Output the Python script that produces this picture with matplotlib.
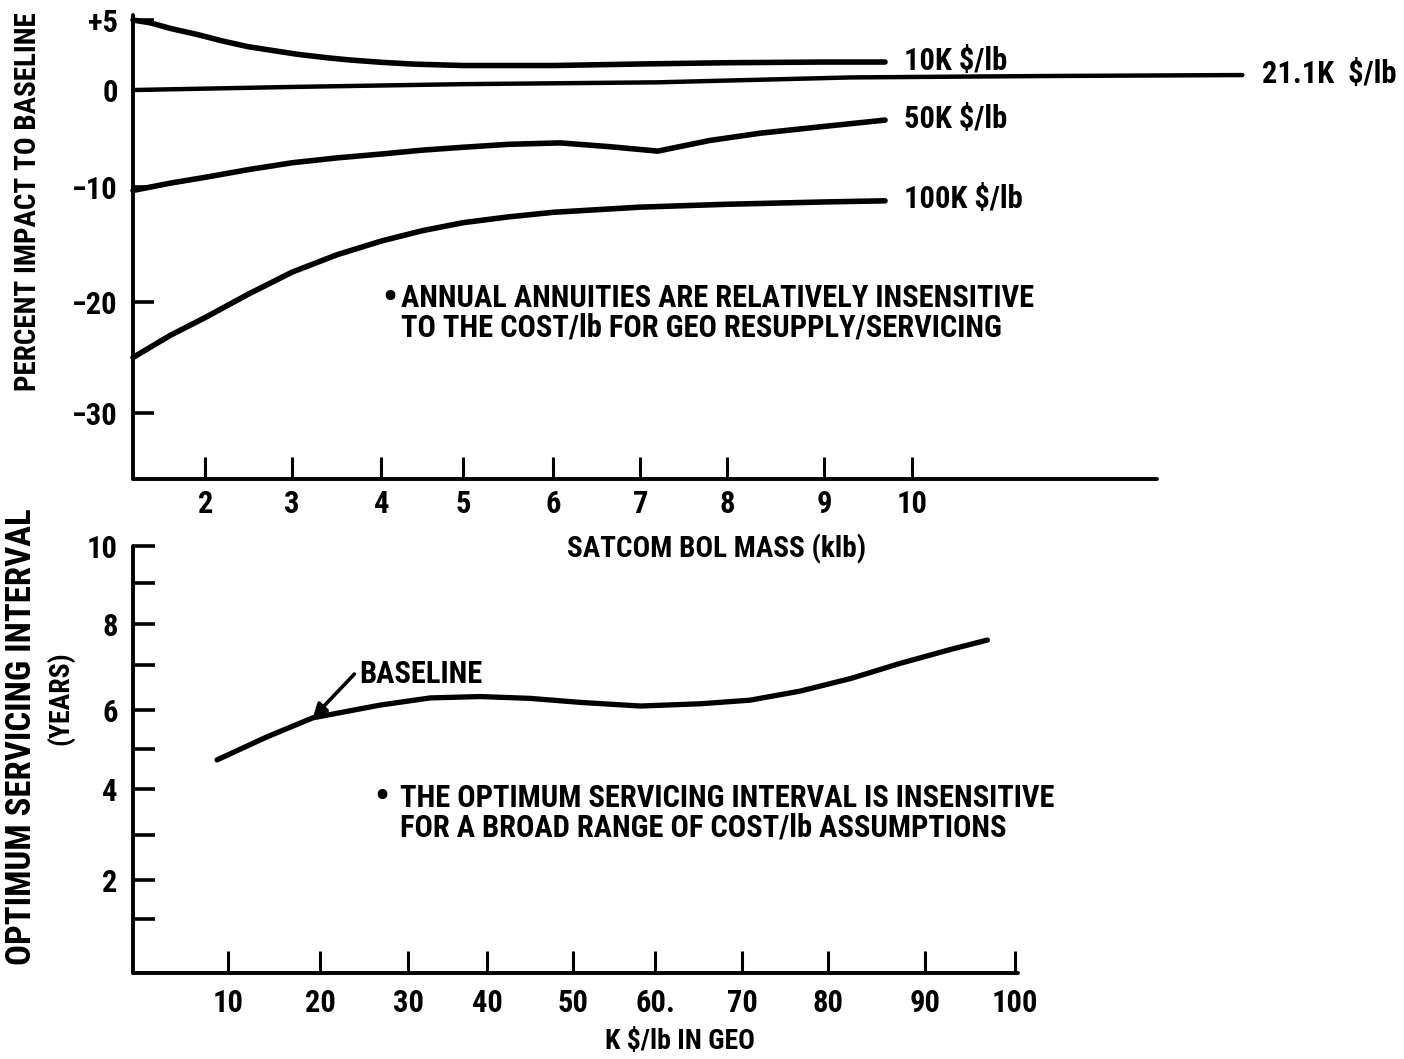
import numpy as np
import matplotlib
matplotlib.use("Agg")
import matplotlib.pyplot as plt
from matplotlib import font_manager

# ---------------- data ----------------
# upper panel: percent impact to baseline vs SATCOM BOL mass (klb)
x_10k = [1.17, 1.37, 1.6, 1.92, 2.2, 2.49, 2.8, 3.06, 3.4, 3.64, 4.0, 4.4, 5.0, 6.0, 7.0, 8.0, 9.0, 9.69]
y_10k = [5.0, 4.8, 4.4, 3.95, 3.5, 3.1, 2.8, 2.55, 2.3, 2.15, 1.98, 1.85, 1.75, 1.75, 1.86, 1.95, 2.0, 2.0]

x_21k = [1.17, 3.0, 5.0, 7.2, 9.3, 11.5, 13.75]
y_21k = [0.0, 0.22, 0.42, 0.55, 0.9, 1.0, 1.07]

x_50k = [1.17, 1.6, 2.0, 2.5, 3.0, 3.5, 4.0, 4.5, 5.0, 5.5, 6.08, 6.66, 7.2, 7.8, 8.34, 9.0, 9.69]
y_50k = [-10.3, -9.6, -9.0, -8.2, -7.5, -7.0, -6.6, -6.2, -5.9, -5.6, -5.45, -5.85, -6.3, -5.2, -4.45, -3.75, -3.1]

x_100k = [1.17, 1.6, 2.0, 2.5, 3.0, 3.5, 4.0, 4.5, 5.0, 5.5, 6.0, 7.0, 8.0, 9.0, 9.69]
y_100k = [-25.0, -23.0, -21.4, -19.3, -17.4, -15.9, -14.7, -13.8, -13.1, -12.6, -12.2, -11.75, -11.5, -11.3, -11.2]

curve_labels = ["10K \\$/lb", "21.1K  \\$/lb", "50K \\$/lb", "100K \\$/lb"]

top_xticks = [2, 3, 4, 5, 6, 7, 8, 9, 10]
top_yticks = [5, 0, -10, -20, -30]
top_yticklabels = ["+5", "0", "\u221210", "\u221220", "\u221230"]

# lower panel: optimum servicing interval (years) vs K $/lb in GEO
cost_k = [8.8, 14.2, 19.2, 26.8, 32.8, 39.1, 45.0, 50.9, 58.2, 65.2, 70.9, 76.7, 82.3, 87.4, 92.8, 96.9]
interval_yr = [4.73, 5.31, 5.8, 6.11, 6.27, 6.3, 6.26, 6.17, 6.09, 6.14, 6.22, 6.42, 6.7, 7.04, 7.38, 7.61]

bot_xticks = [10, 20, 30, 40, 50, 60, 70, 80, 90, 100]
bot_xticklabels = ["10", "20", "30", "40", "50", "60.", "70", "80", "90", "100"]
bot_yticks = [2, 4, 6, 8, 10]
bot_yminor = [1, 3, 5, 7, 9]

# hand-ruled axis spacing (value -> ruled position) for the two panels
top_x_rule = ([2, 3, 4, 5, 6, 7, 8, 9, 10], [205, 292, 381, 463, 553, 640, 727, 824, 912])
top_y_rule = ([-30, -20, -10, 0, 5], [413, 302, 187, 90, 20])
bot_x_rule = ([10, 20, 30, 40, 50, 60, 70, 80, 90, 100],
              [228, 320, 408, 487, 573, 655, 742, 828, 925, 1015])
bot_y_rule = ([1, 2, 3, 4, 5, 6, 7, 8, 9, 10],
              [919, 880, 835, 789, 749, 710, 665, 624, 583, 546])


def ruled_scale(values, marks, flip=False):
    v = np.asarray(values, float)
    m = np.asarray(marks, float)
    if flip:
        m = -m

    def make(a, b):
        s0 = (b[1] - b[0]) / (a[1] - a[0])
        s1 = (b[-1] - b[-2]) / (a[-1] - a[-2])

        def f(x):
            x = np.asarray(x, float)
            y = np.interp(x, a, b)
            y = np.where(x < a[0], b[0] + (x - a[0]) * s0, y)
            y = np.where(x > a[-1], b[-1] + (x - a[-1]) * s1, y)
            return y
        return f
    return make(v, m), make(m, v)


# ---------------- style ----------------
fonts = font_manager.fontManager.ttflist
narrow = [f.name for f in fonts if f.name in ("Liberation Sans Narrow", "Roboto Condensed",
                                              "Open Sans Condensed")]
has_condensed = any(f.name == "DejaVu Sans" and f.stretch == "condensed" for f in fonts)
if narrow:
    plt.rcParams["font.family"] = [narrow[0], "DejaVu Sans"]
    SCALE = 1.0
elif has_condensed:
    plt.rcParams["font.family"] = ["DejaVu Sans", "DejaVu Sans"]
    plt.rcParams["font.stretch"] = "condensed"
    SCALE = 1.0
else:
    plt.rcParams["font.family"] = ["DejaVu Sans"]
    SCALE = 0.86
plt.rcParams["font.weight"] = "bold"

W, H = 1404, 1059
fig = plt.figure(figsize=(W / 100, H / 100), dpi=100)
fig.patch.set_facecolor("white")


def px_axes(left, top, right, bottom):
    return fig.add_axes([left / W, 1 - bottom / H, (right - left) / W, (bottom - top) / H])


TICK_FS = 22 * SCALE
TEXT_FS = 22 * SCALE
LW = 4.0
SPINE_LW = 2.8

# ---------------- upper panel ----------------
ax1 = px_axes(133, 15, 1157, 479)
ax1.set_xscale("function", functions=ruled_scale(*top_x_rule))
ax1.set_yscale("function", functions=ruled_scale(*top_y_rule, flip=True))
ax1.set_xlim(1.17, 12.78)
ax1.set_ylim(-35.95, 5.36)

for s in ("top", "right"):
    ax1.spines[s].set_visible(False)
for s in ("left", "bottom"):
    ax1.spines[s].set_linewidth(SPINE_LW)
    ax1.spines[s].set_capstyle("round")

ax1.set_xticks(top_xticks)
ax1.set_xticklabels([str(t) for t in top_xticks])
ax1.set_yticks(top_yticks)
ax1.set_yticklabels(top_yticklabels)
ax1.minorticks_off()
ax1.tick_params(axis="x", direction="in", length=16, width=2.2, pad=7, labelsize=TICK_FS)
ax1.tick_params(axis="y", direction="in", length=15, width=2.6, pad=11, labelsize=TICK_FS)

series = [(x_10k, y_10k, LW), (x_21k, y_21k, 3.2), (x_50k, y_50k, LW), (x_100k, y_100k, LW)]
for (xs, ys, lw), lab in zip(series, curve_labels):
    ax1.plot(xs, ys, color="black", lw=lw, solid_capstyle="round",
             solid_joinstyle="round", clip_on=False, zorder=3)
    ax1.annotate(lab, xy=(xs[-1], ys[-1]), xytext=(14, 1), textcoords="offset points",
                 ha="left", va="center", fontsize=TICK_FS, fontweight="bold",
                 annotation_clip=False)

ax1.text(0.251, 0.390, "\u2022", transform=ax1.transAxes, ha="center", va="center",
         fontsize=30)
ax1.text(0.262, 0.358, "ANNUAL ANNUITIES ARE RELATIVELY INSENSITIVE\n"
         "TO THE COST/lb FOR GEO RESUPPLY/SERVICING", transform=ax1.transAxes,
         ha="left", va="center", fontsize=TEXT_FS, linespacing=1.0)

# ---------------- lower panel ----------------
ax2 = px_axes(133, 546, 1018, 973)
ax2.set_xscale("function", functions=ruled_scale(*bot_x_rule))
ax2.set_yscale("function", functions=ruled_scale(*bot_y_rule, flip=True))
ax2.set_xlim(-0.33, 100.3)
ax2.set_ylim(-0.38, 10)

for s in ("top", "right"):
    ax2.spines[s].set_visible(False)
for s in ("left", "bottom"):
    ax2.spines[s].set_linewidth(SPINE_LW)
    ax2.spines[s].set_capstyle("round")

ax2.set_xticks(bot_xticks)
ax2.set_xticklabels(bot_xticklabels)
ax2.set_yticks(bot_yticks)
ax2.set_yticklabels([str(t) for t in bot_yticks])
ax2.set_yticks(bot_yminor, minor=True)
ax2.tick_params(axis="x", which="both", direction="in", length=16, width=2.2, pad=11,
                labelsize=TICK_FS)
ax2.tick_params(axis="y", which="both", direction="in", length=16, width=2.6, pad=11,
                labelsize=TICK_FS)
ax2.xaxis.set_minor_locator(matplotlib.ticker.NullLocator())

ax2.plot(cost_k, interval_yr, color="black", lw=3.8, solid_capstyle="round",
         solid_joinstyle="round", zorder=3)

# pointer from the BASELINE tag down onto the curve
ax2.annotate("", xy=(19.2, 5.8), xytext=(23.9, 6.8), textcoords="data",
             arrowprops=dict(arrowstyle="-|>", color="black", lw=2.6,
                             mutation_scale=20, shrinkA=0, shrinkB=0))
ax2.text(24.4, 6.8, "BASELINE", ha="left", va="center", fontsize=TICK_FS)

ax2.text(0.281, 0.410, "\u2022", transform=ax2.transAxes, ha="center", va="center",
         fontsize=30)
ax2.text(0.302, 0.375, "THE OPTIMUM SERVICING INTERVAL IS INSENSITIVE\n"
         "FOR A BROAD RANGE OF COST/lb ASSUMPTIONS", transform=ax2.transAxes,
         ha="left", va="center", fontsize=TEXT_FS, linespacing=1.0)

# ---------------- axis titles ----------------
fig.text(28 / W, 1 - 202 / H, "PERCENT IMPACT TO BASELINE", rotation=90,
         ha="center", va="center", fontsize=21 * SCALE)
fig.text(22 / W, 1 - 737 / H, "OPTIMUM SERVICING INTERVAL", rotation=90,
         ha="center", va="center", fontsize=25 * SCALE)
fig.text(60 / W, 1 - 698 / H, "(YEARS)", rotation=90,
         ha="center", va="center", fontsize=20 * SCALE)
fig.text(717 / W, 1 - 549 / H, "SATCOM BOL MASS (klb)", ha="center", va="center",
         fontsize=21 * SCALE)
fig.text(680 / W, 1 - 1042 / H, "K \\$/lb IN GEO", ha="center", va="center",
         fontsize=20 * SCALE)

fig.savefig("out.png", dpi=100, facecolor="white")
